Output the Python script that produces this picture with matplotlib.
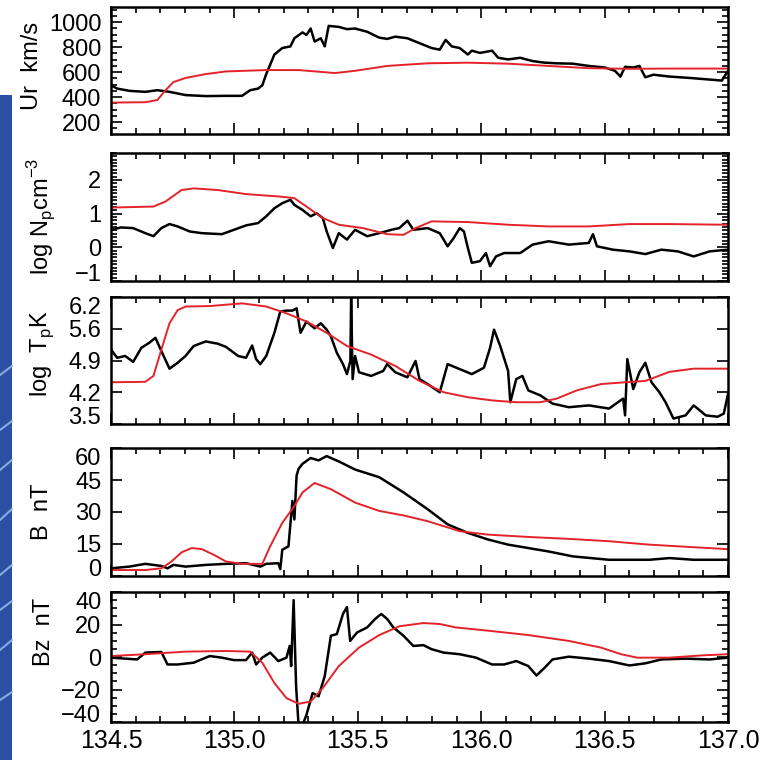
import numpy as np
import matplotlib
matplotlib.use("Agg")
import matplotlib.pyplot as plt
import matplotlib.transforms as mtransforms
from matplotlib.patches import Rectangle
from matplotlib.ticker import MultipleLocator

plt.rcParams["font.family"] = ["Liberation Sans", "DejaVu Sans"]

# solar wind speed
t_ur_obs = [134.500, 134.525, 134.574, 134.639, 134.688, 134.737, 134.802, 134.884, 134.966, 135.031,
            135.064, 135.096, 135.113, 135.129, 135.162, 135.194, 135.227, 135.243, 135.276, 135.292,
            135.309, 135.325, 135.350, 135.366, 135.382, 135.423, 135.456, 135.489, 135.538, 135.587,
            135.619, 135.652, 135.701, 135.750, 135.799, 135.832, 135.856, 135.881, 135.913, 135.946,
            135.962, 135.995, 136.044, 136.069, 136.109, 136.158, 136.208, 136.257, 136.306, 136.371,
            136.436, 136.502, 136.542, 136.564, 136.583, 136.616, 136.641, 136.665, 136.698, 136.763,
            136.845, 136.926, 136.975, 137.000]
ur_obs = [494, 468, 450, 442, 455, 442, 416, 408, 410, 410,
          455, 468, 494, 584, 740, 792, 805, 870, 917, 896,
          948, 844, 870, 805, 969, 961, 943, 948, 922, 875,
          865, 883, 870, 831, 792, 779, 857, 805, 792, 740,
          771, 753, 771, 714, 701, 714, 688, 675, 670, 667,
          649, 636, 610, 564, 642, 636, 649, 558, 579, 564,
          553, 540, 532, 610]
t_ur_mod = [134.500, 134.639, 134.688, 134.721, 134.753, 134.802, 134.884, 134.966, 135.129, 135.260,
            135.341, 135.407, 135.489, 135.619, 135.783, 135.946, 136.109, 136.273, 136.436, 136.600,
            136.763, 137.000]
ur_mod = [356, 359, 377, 455, 520, 553, 584, 605, 616, 616,
          603, 592, 610, 649, 670, 675, 667, 649, 631, 626,
          628, 628]

# log proton density
t_n_obs = [134.500, 134.541, 134.590, 134.639, 134.672, 134.704, 134.737, 134.770, 134.819, 134.868,
           134.949, 134.998, 135.047, 135.096, 135.129, 135.162, 135.194, 135.227, 135.243, 135.276,
           135.309, 135.333, 135.358, 135.374, 135.399, 135.423, 135.456, 135.489, 135.538, 135.587,
           135.636, 135.668, 135.701, 135.725, 135.783, 135.832, 135.864, 135.889, 135.913, 135.930,
           135.946, 135.962, 135.995, 136.019, 136.036, 136.060, 136.093, 136.158, 136.208, 136.273,
           136.355, 136.436, 136.453, 136.469, 136.534, 136.600, 136.665, 136.730, 136.796, 136.861,
           136.926, 137.000]
n_obs = [0.52, 0.59, 0.57, 0.42, 0.33, 0.57, 0.69, 0.62, 0.47, 0.42,
         0.39, 0.52, 0.65, 0.72, 0.92, 1.16, 1.31, 1.41, 1.26, 1.11,
         0.92, 1.01, 0.87, 0.47, -0.02, 0.42, 0.23, 0.52, 0.33, 0.42,
         0.52, 0.57, 0.79, 0.52, 0.57, 0.42, 0.03, 0.28, 0.57, 0.47,
         -0.02, -0.46, -0.41, -0.17, -0.56, -0.27, -0.17, -0.17, 0.08, 0.18,
         0.08, 0.13, 0.39, 0.03, -0.07, -0.12, -0.20, -0.07, -0.12, -0.27,
         -0.12, -0.07]
t_n_mod = [134.500, 134.672, 134.721, 134.786, 134.835, 134.933, 135.047, 135.178, 135.243, 135.292,
           135.358, 135.423, 135.521, 135.619, 135.685, 135.734, 135.799, 135.946, 136.109, 136.273,
           136.436, 136.600, 136.763, 137.000]
n_mod = [1.18, 1.21, 1.36, 1.70, 1.75, 1.70, 1.58, 1.51, 1.46, 1.21,
         0.87, 0.67, 0.57, 0.39, 0.37, 0.57, 0.77, 0.75, 0.67, 0.62,
         0.62, 0.69, 0.69, 0.67]

# log proton temperature
t_t_obs = [134.500, 134.525, 134.557, 134.590, 134.623, 134.655, 134.680, 134.704, 134.737, 134.770,
           134.802, 134.835, 134.884, 134.933, 134.966, 135.015, 135.047, 135.072, 135.088, 135.105,
           135.129, 135.162, 135.186, 135.211, 135.235, 135.252, 135.268, 135.292, 135.325, 135.350,
           135.374, 135.391, 135.415, 135.440, 135.456, 135.470, 135.473, 135.479, 135.489, 135.505,
           135.554, 135.603, 135.619, 135.652, 135.701, 135.734, 135.750, 135.783, 135.832, 135.864,
           135.913, 135.962, 136.011, 136.036, 136.052, 136.077, 136.109, 136.118, 136.142, 136.167,
           136.191, 136.240, 136.289, 136.355, 136.436, 136.518, 136.575, 136.583, 136.592, 136.616,
           136.641, 136.665, 136.690, 136.722, 136.747, 136.779, 136.828, 136.861, 136.910, 136.958,
           136.983, 137.000]
t_obs = [5.14, 4.96, 5.00, 4.87, 5.18, 5.29, 5.40, 5.11, 4.72, 4.85,
         5.00, 5.22, 5.32, 5.27, 5.20, 5.00, 4.96, 5.23, 4.93, 4.82,
         5.00, 5.51, 5.98, 6.00, 6.00, 6.05, 5.51, 5.76, 5.61, 5.72,
         5.58, 5.43, 5.07, 4.82, 4.60, 4.89, 6.30, 4.49, 5.00, 4.64,
         4.56, 4.67, 4.82, 4.64, 4.53, 4.89, 4.49, 4.38, 4.20, 4.82,
         4.71, 4.60, 4.74, 5.18, 5.58, 5.22, 4.67, 3.98, 4.49, 4.56,
         4.24, 4.13, 3.95, 3.87, 3.91, 3.84, 4.06, 3.69, 4.93, 4.27,
         4.64, 4.85, 4.42, 4.20, 3.98, 3.62, 3.69, 3.91, 3.69, 3.66,
         3.73, 4.16]
t_t_mod = [134.500, 134.639, 134.672, 134.704, 134.737, 134.770, 134.802, 134.900, 135.031, 135.129,
           135.211, 135.292, 135.374, 135.456, 135.554, 135.652, 135.750, 135.848, 135.946, 136.044,
           136.142, 136.240, 136.306, 136.387, 136.485, 136.583, 136.665, 136.763, 136.861, 137.000]
t_mod = [4.42, 4.43, 4.56, 5.14, 5.72, 6.01, 6.09, 6.10, 6.16, 6.09,
         5.94, 5.76, 5.51, 5.22, 5.03, 4.78, 4.45, 4.20, 4.09, 4.02,
         3.98, 3.98, 4.06, 4.24, 4.38, 4.42, 4.45, 4.65, 4.72, 4.72]

# magnetic field strength
t_b_obs = [134.500, 134.574, 134.639, 134.704, 134.729, 134.753, 134.802, 134.884, 134.966, 135.047,
           135.105, 135.129, 135.178, 135.186, 135.194, 135.219, 135.235, 135.243, 135.252, 135.260,
           135.276, 135.309, 135.341, 135.374, 135.423, 135.489, 135.587, 135.685, 135.783, 135.864,
           135.946, 136.028, 136.109, 136.273, 136.371, 136.518, 136.681, 136.763, 136.861, 137.000]
b_obs = [3.6, 4.4, 5.7, 4.7, 3.6, 5.2, 4.4, 5.2, 5.7, 6.0,
         4.4, 5.7, 6.0, 3.2, 12.3, 13.9, 35.2, 26.5, 47.1, 50.2,
         52.6, 55.3, 54.2, 56.2, 53.7, 49.9, 46.3, 39.2, 31.3, 24.2,
         20.2, 17.1, 14.7, 11.5, 9.2, 7.6, 7.6, 8.4, 7.6, 7.6]
t_b_mod = [134.500, 134.639, 134.704, 134.745, 134.786, 134.827, 134.868, 134.917, 134.966, 135.031,
           135.113, 135.145, 135.194, 135.243, 135.276, 135.325, 135.391, 135.489, 135.587, 135.685,
           135.783, 135.913, 136.028, 136.191, 136.355, 136.518, 136.681, 136.845, 137.000]
b_mod = [2.8, 2.8, 3.6, 6.8, 11.1, 13.1, 12.6, 9.9, 6.8, 5.7,
         5.7, 13.9, 24.9, 32.8, 39.2, 43.6, 40.7, 34.4, 30.5, 28.4,
         25.7, 21.0, 19.4, 18.3, 17.4, 16.3, 14.7, 13.6, 12.6]

# Bz component
t_bz_obs = [134.500, 134.557, 134.606, 134.639, 134.704, 134.729, 134.770, 134.835, 134.900, 134.949,
            134.998, 135.047, 135.072, 135.088, 135.113, 135.145, 135.178, 135.211, 135.224, 135.230,
            135.240, 135.250, 135.260, 135.276, 135.292, 135.317, 135.341, 135.366, 135.391, 135.415,
            135.440, 135.456, 135.469, 135.497, 135.538, 135.570, 135.595, 135.619, 135.644, 135.685,
            135.725, 135.766, 135.799, 135.848, 135.913, 135.979, 136.044, 136.093, 136.142, 136.191,
            136.224, 136.257, 136.289, 136.355, 136.436, 136.518, 136.600, 136.665, 136.730, 136.828,
            136.926, 137.000]
bz_obs = [-0.4, -1.0, -1.5, 2.7, 3.1, -4.6, -4.6, -3.5, 0.6, -0.4,
          -1.9, -1.9, 2.7, -4.6, -0.4, 2.7, -2.5, -0.4, 6.8, -5.6,
          35.0, -18.0, -42.0, -42.0, -35.6, -22.2, -24.2, -11.8, 13.1, 14.1,
          26.5, 30.7, 9.9, 15.1, 18.2, 23.4, 26.5, 23.4, 18.2, 13.1,
          6.8, 7.3, 4.8, 2.7, 1.7, -0.4, -4.6, -4.6, -2.5, -5.6,
          -11.4, -6.6, -1.5, 0.2, -1.0, -2.5, -5.2, -3.9, -1.5, -1.0,
          -1.5, -0.4]
t_bz_mod = [134.500, 134.639, 134.802, 134.966, 135.064, 135.113, 135.162, 135.211, 135.260, 135.309,
            135.358, 135.423, 135.505, 135.587, 135.668, 135.766, 135.832, 135.897, 136.028, 136.191,
            136.355, 136.485, 136.567, 136.632, 136.763, 136.894, 137.000]
bz_mod = [0.6, 1.7, 3.3, 3.7, 3.3, -3.5, -16.0, -25.3, -28.8, -27.4,
          -19.1, -5.6, 5.8, 13.5, 18.9, 20.9, 20.3, 18.2, 16.2, 13.5,
          9.9, 5.8, 1.7, -0.4, -0.4, 1.0, 1.7]

x_ticks = [134.5, 135.0, 135.5, 136.0, 136.5, 137.0]

panels = [
    (t_ur_obs, ur_obs, t_ur_mod, ur_mod, (105, 1120), [200, 400, 600, 800, 1000],
     ["200", "400", "600", "800", "1000"], 50, r"Ur  km/s", (32, 66)),
    (t_n_obs, n_obs, t_n_mod, n_mod, (-1.0, 2.8), [-1, 0, 1, 2],
     ["\u22121", "0", "1", "2"], 0.1, r"log N$_\mathregular{p}$cm$^\mathregular{-3}$", (42, 216)),
    (t_t_obs, t_obs, t_t_mod, t_mod, (3.5, 6.3), [3.5, 4.2, 4.9, 5.6, 6.3],
     ["3.5", "4.2", "4.9", "5.6", "6.2"], None, r"log  T$_\mathregular{p}$K", (42, 354)),
    (t_b_obs, b_obs, t_b_mod, b_mod, (0, 60), [0, 15, 30, 45, 60],
     ["0", "15", "30", "45", "60"], None, "B  nT", (42, 512)),
    (t_bz_obs, bz_obs, t_bz_mod, bz_mod, (-40, 40), [-40, -20, 0, 20, 40],
     ["\u221240", "\u221220", "0", "20", "40"], 5, "Bz  nT", (44, 632)),
]

# axes boxes in pixels: top, bottom
boxes = [(7, 134), (153, 281), (297, 424), (448, 576), (592, 722)]
W, H = 772, 760
left, right = 111, 728

fig = plt.figure(figsize=(W / 100, H / 100), dpi=100)

# blue slide background peeking in at the left edge
fig.patches.append(Rectangle((0, 0), 12 / W, 1 - 95 / H, transform=fig.transFigure,
                             facecolor="#2c4ea3", edgecolor="none", zorder=0))
for y0, y1 in [(375, 366), (430, 421), (470, 460), (520, 509), (575, 565), (610, 601), (650, 640), (700, 692)]:
    fig.lines.append(plt.Line2D([0, 12 / W], [1 - y0 / H, 1 - y1 / H], transform=fig.transFigure,
                                color="#9fc3f0", lw=1.5, alpha=0.8))

# end labels are nudged inside the box, as in the original IDL plot
up = mtransforms.ScaledTranslation(0, 6 / 72, fig.dpi_scale_trans)
down = mtransforms.ScaledTranslation(0, -6 / 72, fig.dpi_scale_trans)

for i, (tx, yo, tm, ym, ylim, yt, ytl, minor, label, lpos) in enumerate(panels):
    top, bot = boxes[i]
    ax = fig.add_axes([left / W, 1 - bot / H, (right - left) / W, (bot - top) / H])
    ax.plot(tx, yo, color="black", lw=1.8)
    ax.plot(tm, ym, color="#e32229", lw=1.4)
    ax.set_xlim(134.5, 137.0)
    ax.set_ylim(*ylim)
    ax.set_xticks(x_ticks)
    ax.xaxis.set_minor_locator(MultipleLocator(0.1))
    ax.set_yticks(yt)
    ax.set_yticklabels(ytl)
    if minor:
        ax.yaxis.set_minor_locator(MultipleLocator(minor))
    ax.tick_params(which="both", direction="in", top=True, right=True, width=1.2)
    ax.tick_params(which="major", length=8)
    ax.tick_params(which="minor", length=4)
    ax.tick_params(axis="y", labelsize=17, pad=7)
    ax.tick_params(axis="x", labelsize=18, pad=5)
    for tick, v in zip(ax.yaxis.get_major_ticks(), yt):
        if v == ylim[0]:
            tick.label1.set_transform(tick.label1.get_transform() + up)
        elif v == ylim[1]:
            tick.label1.set_transform(tick.label1.get_transform() + down)
    for s in ax.spines.values():
        s.set_linewidth(1.8)
    if i < 4:
        ax.set_xticklabels([])
    else:
        ax.set_xticklabels(["%.1f" % v for v in x_ticks])
    fig.text(lpos[0] / W, 1 - lpos[1] / H, label, rotation=90, ha="center", va="center", fontsize=17)

fig.savefig("out.png", dpi=100)
